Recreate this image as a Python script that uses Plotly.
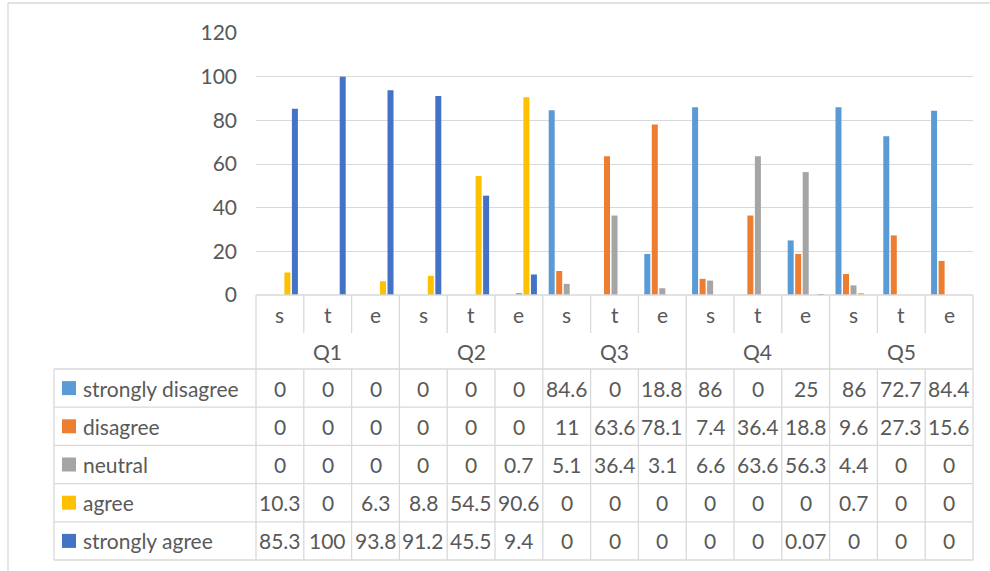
import plotly.graph_objects as go

# Survey responses (%) per question and respondent group
questions = ["Q1", "Q2", "Q3", "Q4", "Q5"]
groups = ["s", "t", "e"]
series_names = ["strongly disagree", "disagree", "neutral", "agree", "strongly agree"]
series_colors = ["#5B9BD5", "#ED7D31", "#A5A5A5", "#FFC000", "#4472C4"]

strongly_disagree = [0, 0, 0, 0, 0, 0, 84.6, 0, 18.8, 86, 0, 25, 86, 72.7, 84.4]
disagree = [0, 0, 0, 0, 0, 0, 11, 63.6, 78.1, 7.4, 36.4, 18.8, 9.6, 27.3, 15.6]
neutral = [0, 0, 0, 0, 0, 0.7, 5.1, 36.4, 3.1, 6.6, 63.6, 56.3, 4.4, 0, 0]
agree = [10.3, 0, 6.3, 8.8, 54.5, 90.6, 0, 0, 0, 0, 0, 0, 0.7, 0, 0]
strongly_agree = [85.3, 100, 93.8, 91.2, 45.5, 9.4, 0, 0, 0, 0, 0, 0.07, 0, 0, 0]
series_values = [strongly_disagree, disagree, neutral, agree, strongly_agree]

y_ticks = [0, 20, 40, 60, 80, 100, 120]

FONT = "Lato"
TXT = "#595959"
GRID = "#D9D9D9"

# figure geometry (pixels)
FW, FH = 990, 571
PL, PR, PT, PB = 256, 973, 33, 295
PW, PH = PR - PL, PB - PT


def xp(px):
    return (px - PL) / PW


def yp(py):
    return (PB - py) / PH


q_axis = [q for q in questions for _ in groups]
g_axis = [g for _ in questions for g in groups]
n_cols = len(q_axis)

fig = go.Figure()
for name, color, vals in zip(series_names, series_colors, series_values):
    fig.add_trace(go.Bar(
        x=[q_axis, g_axis], y=vals, name=name,
        marker=dict(color=color, line=dict(width=0)),
        showlegend=False,
    ))

shapes = []
annotations = []


def hline(y, x0, x1):
    shapes.append(dict(type="line", xref="paper", yref="paper",
                       x0=xp(x0), x1=xp(x1), y0=yp(y), y1=yp(y),
                       line=dict(color=GRID, width=1.3)))


def vline(x, y0, y1):
    shapes.append(dict(type="line", xref="paper", yref="paper",
                       x0=xp(x), x1=xp(x), y0=yp(y0), y1=yp(y1),
                       line=dict(color=GRID, width=1.3)))


# outer chart frame
vline(8, 3, FH + 5)
hline(3, 8, FW + 5)

# data table grid
col_w = PW / n_cols
col_x = [PL + k * col_w for k in range(n_cols + 1)]
cat_top, cat_mid, rows_top = 295, 333, 369
row_h = (560 - rows_top) / len(series_names)
row_y = [rows_top + i * row_h for i in range(len(series_names) + 1)]
legend_left = 54

hline(cat_top, PL, PR)
for k, x in enumerate(col_x):
    if k % len(groups) == 0:
        vline(x, cat_top, row_y[-1])
    else:
        vline(x, cat_top, cat_mid)
        vline(x, rows_top, row_y[-1])
vline(legend_left, rows_top, row_y[-1])
for y in row_y:
    hline(y, legend_left, PR)

# category labels
for k in range(n_cols):
    annotations.append(dict(x=xp((col_x[k] + col_x[k + 1]) / 2), y=yp(314),
                            text=g_axis[k], showarrow=False))
for qi, q in enumerate(questions):
    x0 = col_x[qi * len(groups)]
    x1 = col_x[(qi + 1) * len(groups)]
    annotations.append(dict(x=xp((x0 + x1) / 2), y=yp(351), text=q, showarrow=False))

# series rows: legend key, name and values
for i, (name, color, vals) in enumerate(zip(series_names, series_colors, series_values)):
    yc = (row_y[i] + row_y[i + 1]) / 2
    shapes.append(dict(type="rect", xref="paper", yref="paper",
                       x0=xp(62), x1=xp(76), y0=yp(yc - 7), y1=yp(yc + 7),
                       fillcolor=color, line=dict(width=0)))
    annotations.append(dict(x=xp(81), y=yp(yc), text=name, showarrow=False,
                            xanchor="left"))
    for k, v in enumerate(vals):
        annotations.append(dict(x=xp((col_x[k] + col_x[k + 1]) / 2), y=yp(yc),
                                text=f"{v:g}", showarrow=False))

for a in annotations:
    a.update(xref="paper", yref="paper", yanchor="middle",
             font=dict(family=FONT, size=21, color=TXT))
    a.setdefault("xanchor", "center")

fig.update_layout(
    width=FW, height=FH,
    margin=dict(l=PL, r=FW - PR, t=PT, b=FH - PB),
    paper_bgcolor="white", plot_bgcolor="white",
    barmode="group", bargap=0.215, bargroupgap=0.2,
    font=dict(family=FONT, color=TXT),
    shapes=shapes, annotations=annotations,
    xaxis=dict(showticklabels=False, showgrid=False, zeroline=False,
               showline=False, ticks="", showdividers=False,
               range=[-0.5, n_cols - 0.5]),
    yaxis=dict(range=[0, 120], tickvals=y_ticks, showgrid=True, gridcolor=GRID,
               gridwidth=1.3, zeroline=False, showline=False, ticks="",
               tickfont=dict(family=FONT, size=21, color=TXT),
               ticklabelstandoff=18),
)

fig.write_html("out.html")
